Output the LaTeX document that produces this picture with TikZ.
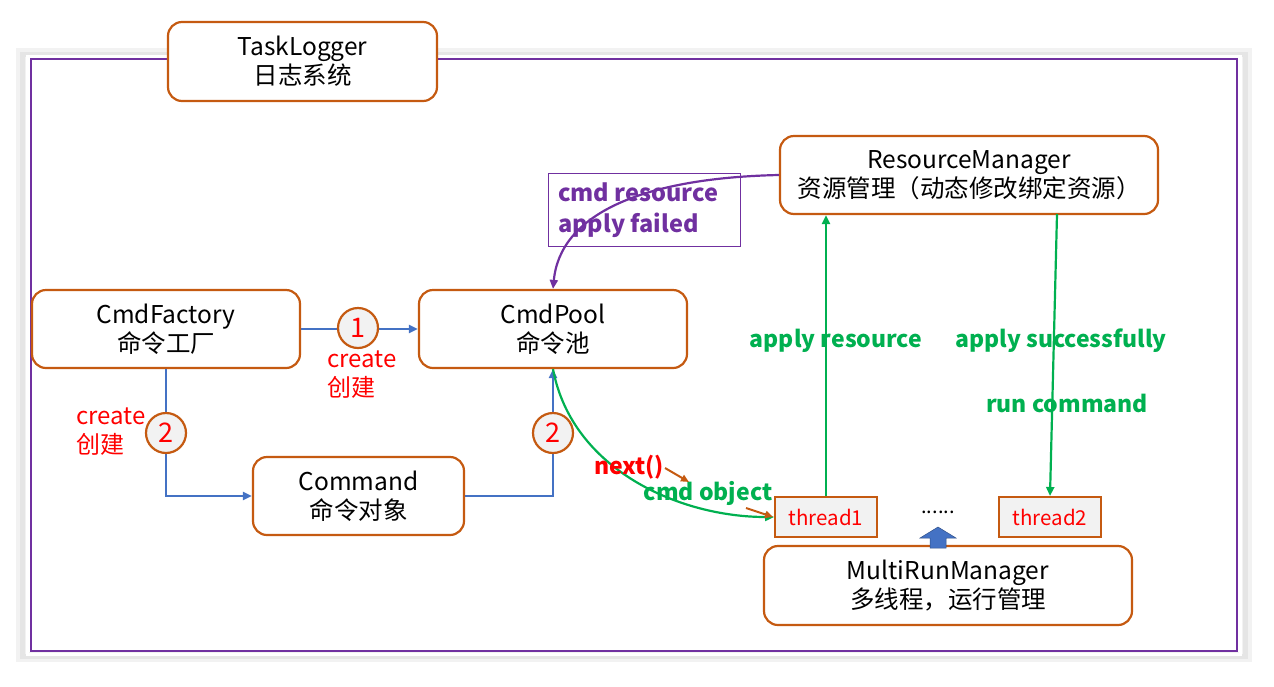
\documentclass[tikz,border=0pt]{standalone}
\usepackage{fontspec}
\setmainfont{Noto Sans CJK SC}
\usetikzlibrary{arrows.meta,calc}
\definecolor{orng}{HTML}{C55A11}
\definecolor{blu}{HTML}{4472C4}
\definecolor{grn}{HTML}{00B050}
\definecolor{purp}{HTML}{7030A0}
\definecolor{rd}{HTML}{FF0000}
\definecolor{lgray}{HTML}{F2F2F2}
\tikzset{
  mainbox/.style={draw=orng,line width=2.2pt,rounded corners=14pt,fill=white,align=center,
    font=\fontsize{24.5}{29}\selectfont,inner sep=0pt},
  thbox/.style={draw=orng,line width=2pt,fill=lgray,text=rd,minimum width=102pt,minimum height=40pt,
    inner sep=0pt,font=\fontsize{20.5}{24}\selectfont},
  numc/.style={circle,draw=orng,line width=2.2pt,fill=lgray,text=rd,minimum size=40pt,inner sep=0pt,
    font=\fontsize{27}{30}\selectfont},
  bconn/.style={draw=blu,line width=2.3pt,-{Triangle[length=9pt,width=8pt]}},
  gconn/.style={draw=grn,line width=2.2pt,-{Triangle[length=9pt,width=8pt]}},
  pconn/.style={draw=purp,line width=2.2pt,-{Triangle[length=9pt,width=8pt]}},
  oconn/.style={draw=orng,line width=2pt,-{Triangle[length=8pt,width=7pt]}},
  redlab/.style={text=rd,align=left,font=\fontsize{24}{29}\selectfont,inner sep=0pt},
  glab/.style={text=grn,font=\bfseries\fontsize{23}{26}\selectfont,inner sep=0pt},
}
\begin{document}
\begin{tikzpicture}[x=1pt,y=-1pt]
\useasboundingbox (0,0) rectangle (1274,686);
% shadow frame
\draw[gray!10,line width=10pt] (21,53) rectangle (1247,657);
\draw[gray!20,line width=5pt] (22,54) rectangle (1245,656);
\draw[white,line width=3pt] (27,56) rectangle (1240,654);
\draw[purp,line width=2.5pt] (31,59) rectangle (1237,651);

% nodes
\node[mainbox,minimum width=269pt,minimum height=79pt] (logger) at (302.5,61.5) {TaskLogger\\日志系统};
\node[mainbox,minimum width=378pt,minimum height=78pt] (res) at (969,175) {ResourceManager\\资源管理（动态修改绑定资源）};
\node[mainbox,minimum width=268pt,minimum height=78pt] (fac) at (166,329) {CmdFactory\\命令工厂};
\node[mainbox,minimum width=268pt,minimum height=78pt] (pool) at (553,329) {CmdPool\\命令池};
\node[mainbox,minimum width=211pt,minimum height=78pt] (cmd) at (358.5,496) {Command\\命令对象};
\node[mainbox,minimum width=368pt,minimum height=79pt] (multi) at (948,585.5) {MultiRunManager\\多线程，运行管理};
\node[thbox] (t1) at (826,517) {thread1};
\node[thbox] (t2) at (1050,517) {thread2};

% purple label box
\node[draw=purp,line width=1pt,minimum width=192pt,minimum height=73pt,inner sep=0pt] (fail) at (644,209.5) {};
\node[anchor=west,text=purp,align=left,font=\bfseries\fontsize{23.5}{31}\selectfont,inner sep=0pt] (failt) at (558,210) {cmd resource\\apply failed};

% blue connectors
\coordinate (k1) at (166,496);
\coordinate (k2) at (553,496);
\draw[bconn] (fac.east) -- (pool.west);
\draw[bconn] (fac.south) -- (k1) -- (cmd.west);
\draw[bconn] (cmd.east) -- (k2) -- (pool.south);
\node[numc] (c1) at (358,328) {1};
\node[numc] (c2a) at (166,433) {2};
\node[numc] (c2b) at (553,433) {2};

\node[redlab,anchor=west] (cr1) at (327,375) {create\\创建};
\node[redlab,anchor=west] (cr2) at (76,432) {create\\创建};

% green curve pool -> thread1
\draw[gconn] (pool.south) .. controls (572,470) and (680,517) .. (t1.west);
% purple curve
\draw[pconn] (res.west) .. controls (640,178) and (560,215) .. (pool.north);

% green vertical
\draw[gconn] (t1.north) -- (res.south -| t1.north);
\coordinate (rs2) at (1057,214);
\draw[gconn] (rs2) -- (t2.north);

\node[glab] (lab1) at (836,341) {apply resource};
\node[glab] (lab2) at (1061,341) {apply successfully};
\node[glab] (lab3) at (1067,403) {run command};
\node[text=rd,font=\bfseries\fontsize{23}{26}\selectfont,inner sep=0pt] (nx) at (629,467) {next()};
\node[glab] (co) at (708,493) {cmd object};

\coordinate (o1a) at (665,468);
\coordinate (o1b) at (689,482);
\coordinate (o2a) at (746,508);
\coordinate (o2b) at (773,517);
\draw[oconn] (o1a) -- (o1b);
\draw[oconn] (o2a) -- (o2b);

% dots and block arrow
\node[font=\fontsize{20}{22}\selectfont,inner sep=0pt] (dots) at (938,512) {......};
\fill[blu,draw=blu!70!black,line width=0.5pt] (930,548) -- (930,538) -- (920,538) -- (938,527) -- (956,538) -- (946,538) -- (946,548) -- cycle;
\end{tikzpicture}
\end{document}
